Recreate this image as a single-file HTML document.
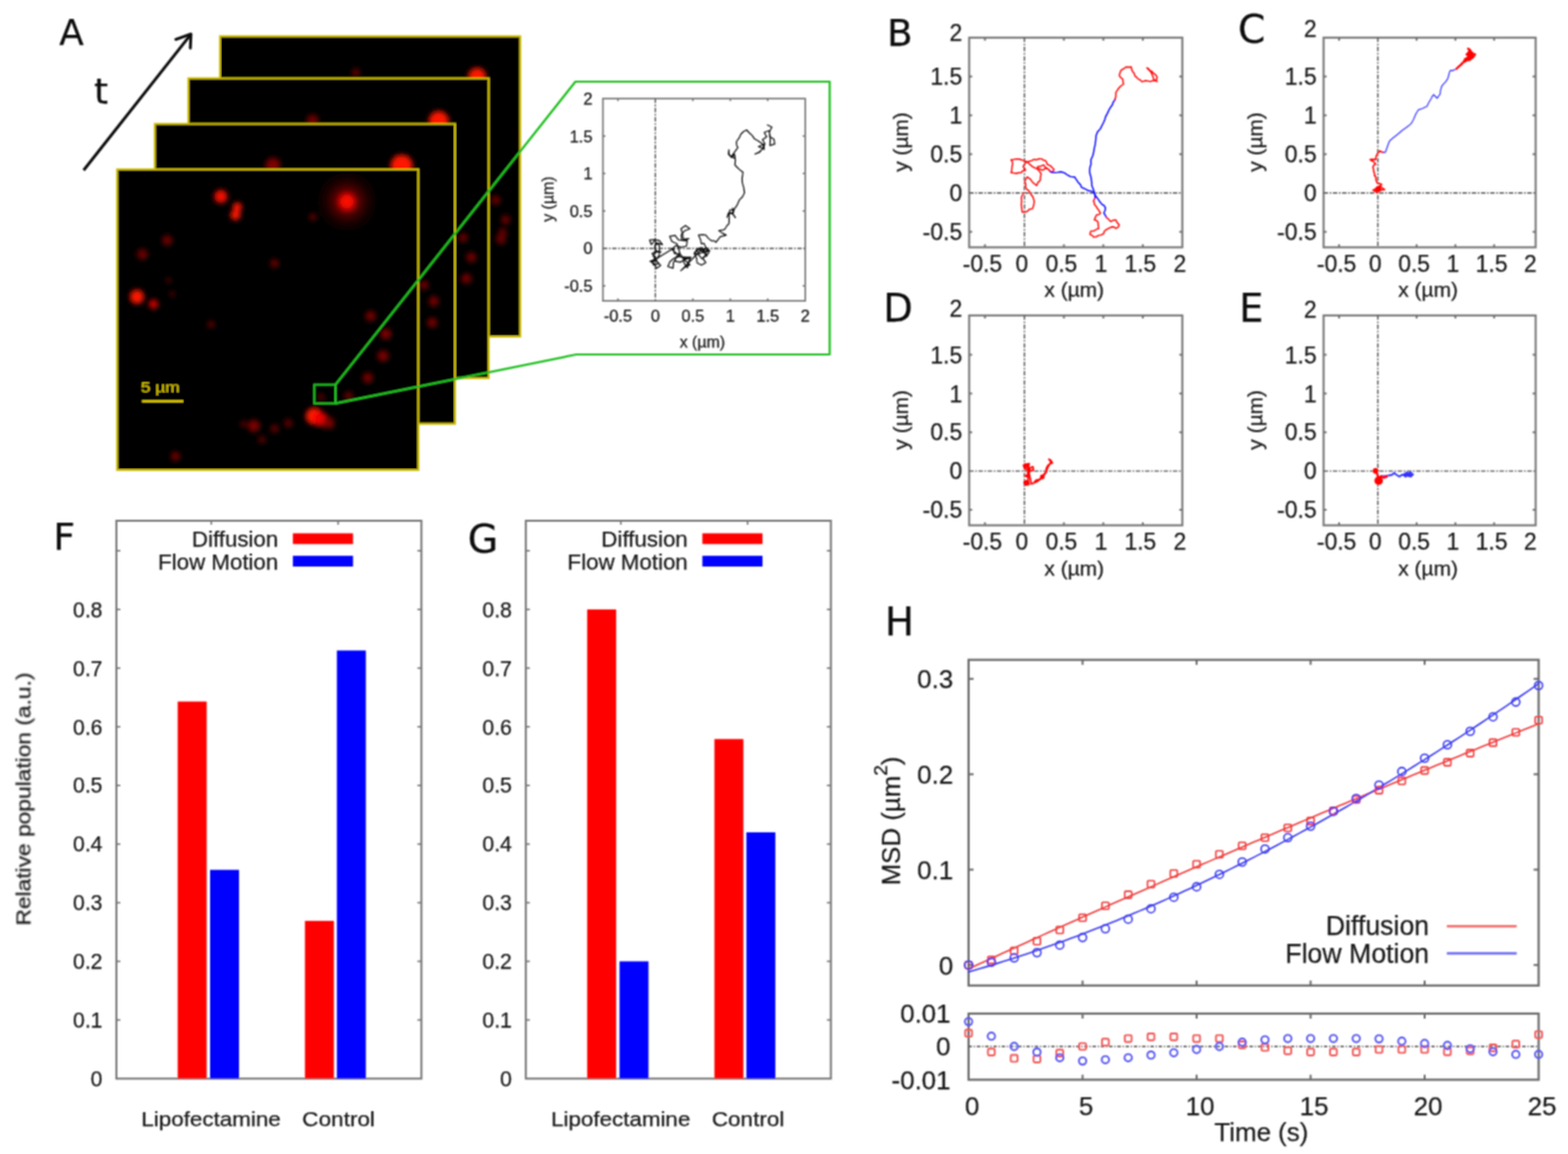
<!DOCTYPE html>
<html><head><meta charset="utf-8"><title>Figure</title>
<style>html,body{margin:0;padding:0;background:#fff;overflow:hidden;} svg{display:block;}</style>
</head><body>
<svg width="1575" height="1159" viewBox="0 0 1575 1159">
<defs>
<clipPath id="cf0"><rect x="221.0" y="36.5" width="301.5" height="301.5"/></clipPath>
<clipPath id="cf1"><rect x="189.3" y="78.7" width="301.5" height="301.0"/></clipPath>
<clipPath id="cf2"><rect x="155.6" y="124.5" width="301.4" height="301.1"/></clipPath>
<clipPath id="cf3"><rect x="117.7" y="170.2" width="302.5" height="301.8"/></clipPath>
<filter id="blur" x="-50%" y="-50%" width="200%" height="200%"><feGaussianBlur stdDeviation="2.9"/></filter>
<radialGradient id="glow"><stop offset="0" stop-color="#ff0000" stop-opacity="0.7"/><stop offset="0.35" stop-color="#c00000" stop-opacity="0.45"/><stop offset="0.7" stop-color="#500000" stop-opacity="0.25"/><stop offset="1" stop-color="#200000" stop-opacity="0"/></radialGradient>
<filter id="gb" filterUnits="userSpaceOnUse" x="0" y="0" width="1575" height="1159"><feConvolveMatrix order="3" kernelMatrix="1 2 1 2 4 2 1 2 1" divisor="16" edgeMode="duplicate"/></filter>
</defs>
<rect width="1575" height="1159" fill="#fff"/>
<g filter="url(#gb)">
<rect x="221.0" y="36.5" width="301.5" height="301.5" fill="#000"/>
<g clip-path="url(#cf0)"><g filter="url(#blur)">
<circle cx="479.3" cy="77.0" r="9" fill="rgb(255,18,0)"/>
<circle cx="357.5" cy="73.0" r="4" fill="rgb(98,0,0)"/>
<circle cx="498.0" cy="201.0" r="4.5" fill="rgb(107,0,0)"/>
<circle cx="507.9" cy="220.7" r="4.5" fill="rgb(107,0,0)"/>
<circle cx="503.0" cy="240.3" r="5" fill="rgb(107,0,0)"/>
<circle cx="505.0" cy="233.0" r="4" fill="rgb(102,0,0)"/>
</g>
</g>
<rect x="221.0" y="36.5" width="301.5" height="301.5" fill="none" stroke="#cbbb08" stroke-width="2.1"/>
<rect x="189.3" y="78.7" width="301.5" height="301" fill="#000"/>
<g clip-path="url(#cf1)"><g filter="url(#blur)">
<circle cx="440.7" cy="121.5" r="10" fill="rgb(255,18,0)"/>
<circle cx="314.0" cy="121.0" r="6" fill="rgb(112,0,0)"/>
<circle cx="465.2" cy="238.7" r="4.5" fill="rgb(107,0,0)"/>
<circle cx="473.4" cy="258.4" r="5" fill="rgb(112,0,0)"/>
<circle cx="468.5" cy="279.7" r="5" fill="rgb(116,0,0)"/>
</g>
</g>
<rect x="189.3" y="78.7" width="301.5" height="301" fill="none" stroke="#cbbb08" stroke-width="2.1"/>
<rect x="155.6" y="124.5" width="301.4" height="301.1" fill="#000"/>
<g clip-path="url(#cf2)"><g filter="url(#blur)">
<circle cx="403.5" cy="166.5" r="11" fill="rgb(255,18,0)"/>
<circle cx="274.2" cy="166.0" r="7.5" fill="rgb(126,0,0)"/>
<circle cx="425.9" cy="286.2" r="4.5" fill="rgb(112,0,0)"/>
<circle cx="435.7" cy="302.6" r="5" fill="rgb(116,0,0)"/>
<circle cx="434.1" cy="324.0" r="5" fill="rgb(116,0,0)"/>
</g>
</g>
<rect x="155.6" y="124.5" width="301.4" height="301.1" fill="none" stroke="#cbbb08" stroke-width="2.1"/>
<rect x="117.7" y="170.2" width="302.5" height="301.8" fill="#000"/>
<g clip-path="url(#cf3)"><g filter="url(#blur)">
<circle cx="348.5" cy="202.5" r="8.5" fill="rgb(255,18,0)"/>
<circle cx="221.8" cy="197.3" r="6.5" fill="rgb(246,12,0)"/>
<circle cx="238.4" cy="208.0" r="4.5" fill="rgb(255,18,0)"/>
<circle cx="236.5" cy="216.0" r="5" fill="rgb(255,18,0)"/>
<circle cx="314.3" cy="218.0" r="3.5" fill="rgb(102,0,0)"/>
<circle cx="168.0" cy="241.4" r="5" fill="rgb(112,0,0)"/>
<circle cx="143.0" cy="255.3" r="5.5" fill="rgb(102,0,0)"/>
<circle cx="275.7" cy="264.4" r="4" fill="rgb(112,0,0)"/>
<circle cx="137.6" cy="298.0" r="7" fill="rgb(255,18,0)"/>
<circle cx="154.2" cy="305.5" r="4.5" fill="rgb(218,0,0)"/>
<circle cx="173.0" cy="295.3" r="2.5" fill="rgb(102,0,0)"/>
<circle cx="169.4" cy="281.5" r="2.5" fill="rgb(98,0,0)"/>
<circle cx="212.0" cy="325.7" r="3.5" fill="rgb(98,0,0)"/>
<circle cx="372.3" cy="317.4" r="5" fill="rgb(121,0,0)"/>
<circle cx="387.5" cy="335.3" r="5.5" fill="rgb(126,0,0)"/>
<circle cx="384.7" cy="357.4" r="5.5" fill="rgb(126,0,0)"/>
<circle cx="369.5" cy="379.5" r="5" fill="rgb(126,0,0)"/>
<circle cx="350.2" cy="397.4" r="4" fill="rgb(112,0,0)"/>
<circle cx="322.6" cy="398.8" r="3" fill="rgb(112,0,0)"/>
<circle cx="315.7" cy="418.1" r="8.5" fill="rgb(255,18,0)"/>
<circle cx="322.0" cy="421.0" r="7" fill="rgb(236,6,0)"/>
<circle cx="330.0" cy="424.7" r="6" fill="rgb(121,0,0)"/>
<circle cx="255.0" cy="427.8" r="6" fill="rgb(126,0,0)"/>
<circle cx="275.7" cy="430.6" r="4" fill="rgb(98,0,0)"/>
<circle cx="289.5" cy="425.0" r="4" fill="rgb(98,0,0)"/>
<circle cx="263.2" cy="441.6" r="3.5" fill="rgb(98,0,0)"/>
<circle cx="176.3" cy="458.2" r="4.5" fill="rgb(112,0,0)"/>
<circle cx="244.5" cy="426" r="3" fill="rgb(98,0,0)"/>
</g>
<circle cx="348.5" cy="202.5" r="34" fill="url(#glow)"/>
</g>
<rect x="117.7" y="170.2" width="302.5" height="301.8" fill="none" stroke="#cbbb08" stroke-width="2.1"/>
<line x1="142.6" y1="403" x2="184" y2="403" stroke="#d8c400" stroke-width="2.4" />
<text x="141.5" y="393.5" font-size="14" text-anchor="start" font-family="'Liberation Sans', Arial, sans-serif" fill="#d8c400" stroke="#d8c400" stroke-width="0.15" textLength="39" lengthAdjust="spacingAndGlyphs">5 µm</text>
<line x1="84" y1="171" x2="191.2" y2="35.2" stroke="#111" stroke-width="2.9" />
<polyline points="176.6,39.6 191.8,34.2 191.2,48.4" fill="none" stroke="#111" stroke-width="2.9" stroke-linejoin="round" stroke-linecap="round" stroke-linecap="round"/>
<text x="59.5" y="45" font-size="36" text-anchor="start" font-family="'DejaVu Sans', 'Liberation Sans', sans-serif" fill="#111" stroke="#111" stroke-width="0.25" >A</text>
<text x="94.5" y="104.3" font-size="36" text-anchor="start" font-family="'DejaVu Sans', 'Liberation Sans', sans-serif" fill="#111" stroke="#111" stroke-width="0.25" >t</text>
<rect x="315.7" y="386.4" width="21.3" height="18.8" fill="none" stroke="#22c022" stroke-width="2"/>
<polyline points="337,386.4 578,82 833.4,82 833.4,356 579,356 337,405.2" fill="none" stroke="#22c022" stroke-width="2.2" stroke-linejoin="round" stroke-linecap="round" stroke-linecap="butt" stroke-linejoin="miter"/>
<rect x="605.6" y="99" width="203.2" height="203.2" fill="none" stroke="#747474" stroke-width="1.6"/>
<line x1="658.3" y1="99" x2="658.3" y2="302.2" stroke="#555" stroke-width="1.4" stroke-dasharray="4.5,1.6,1.6,1.6"/>
<line x1="605.6" y1="249.5" x2="808.8" y2="249.5" stroke="#555" stroke-width="1.4" stroke-dasharray="4.5,1.6,1.6,1.6"/>
<line x1="620.67" y1="99" x2="620.67" y2="101.5" stroke="#747474" stroke-width="1.6" />
<line x1="620.67" y1="302.2" x2="620.67" y2="299.7" stroke="#747474" stroke-width="1.6" />
<line x1="695.93" y1="99" x2="695.93" y2="101.5" stroke="#747474" stroke-width="1.6" />
<line x1="695.93" y1="302.2" x2="695.93" y2="299.7" stroke="#747474" stroke-width="1.6" />
<line x1="733.56" y1="99" x2="733.56" y2="101.5" stroke="#747474" stroke-width="1.6" />
<line x1="733.56" y1="302.2" x2="733.56" y2="299.7" stroke="#747474" stroke-width="1.6" />
<line x1="771.19" y1="99" x2="771.19" y2="101.5" stroke="#747474" stroke-width="1.6" />
<line x1="771.19" y1="302.2" x2="771.19" y2="299.7" stroke="#747474" stroke-width="1.6" />
<line x1="605.6" y1="287.13" x2="608.1" y2="287.13" stroke="#747474" stroke-width="1.6" />
<line x1="808.8" y1="287.13" x2="806.3" y2="287.13" stroke="#747474" stroke-width="1.6" />
<line x1="605.6" y1="211.87" x2="608.1" y2="211.87" stroke="#747474" stroke-width="1.6" />
<line x1="808.8" y1="211.87" x2="806.3" y2="211.87" stroke="#747474" stroke-width="1.6" />
<line x1="605.6" y1="174.24" x2="608.1" y2="174.24" stroke="#747474" stroke-width="1.6" />
<line x1="808.8" y1="174.24" x2="806.3" y2="174.24" stroke="#747474" stroke-width="1.6" />
<line x1="605.6" y1="136.61" x2="608.1" y2="136.61" stroke="#747474" stroke-width="1.6" />
<line x1="808.8" y1="136.61" x2="806.3" y2="136.61" stroke="#747474" stroke-width="1.6" />
<text x="620.67" y="323" font-size="16.5" text-anchor="middle" font-family="'Liberation Sans', Arial, sans-serif" fill="#1a1a1a" stroke="#1a1a1a" stroke-width="0.25" >-0.5</text>
<text x="658.3" y="323" font-size="16.5" text-anchor="middle" font-family="'Liberation Sans', Arial, sans-serif" fill="#1a1a1a" stroke="#1a1a1a" stroke-width="0.25" >0</text>
<text x="695.93" y="323" font-size="16.5" text-anchor="middle" font-family="'Liberation Sans', Arial, sans-serif" fill="#1a1a1a" stroke="#1a1a1a" stroke-width="0.25" >0.5</text>
<text x="733.56" y="323" font-size="16.5" text-anchor="middle" font-family="'Liberation Sans', Arial, sans-serif" fill="#1a1a1a" stroke="#1a1a1a" stroke-width="0.25" >1</text>
<text x="771.19" y="323" font-size="16.5" text-anchor="middle" font-family="'Liberation Sans', Arial, sans-serif" fill="#1a1a1a" stroke="#1a1a1a" stroke-width="0.25" >1.5</text>
<text x="808.82" y="323" font-size="16.5" text-anchor="middle" font-family="'Liberation Sans', Arial, sans-serif" fill="#1a1a1a" stroke="#1a1a1a" stroke-width="0.25" >2</text>
<text x="595.1" y="293.07" font-size="16.5" text-anchor="end" font-family="'Liberation Sans', Arial, sans-serif" fill="#1a1a1a" stroke="#1a1a1a" stroke-width="0.25" >-0.5</text>
<text x="595.1" y="255.44" font-size="16.5" text-anchor="end" font-family="'Liberation Sans', Arial, sans-serif" fill="#1a1a1a" stroke="#1a1a1a" stroke-width="0.25" >0</text>
<text x="595.1" y="217.81" font-size="16.5" text-anchor="end" font-family="'Liberation Sans', Arial, sans-serif" fill="#1a1a1a" stroke="#1a1a1a" stroke-width="0.25" >0.5</text>
<text x="595.1" y="180.18" font-size="16.5" text-anchor="end" font-family="'Liberation Sans', Arial, sans-serif" fill="#1a1a1a" stroke="#1a1a1a" stroke-width="0.25" >1</text>
<text x="595.1" y="142.55" font-size="16.5" text-anchor="end" font-family="'Liberation Sans', Arial, sans-serif" fill="#1a1a1a" stroke="#1a1a1a" stroke-width="0.25" >1.5</text>
<text x="595.1" y="104.92" font-size="16.5" text-anchor="end" font-family="'Liberation Sans', Arial, sans-serif" fill="#1a1a1a" stroke="#1a1a1a" stroke-width="0.25" >2</text>
<text x="705.5" y="348.5" font-size="16" text-anchor="middle" font-family="'Liberation Sans', Arial, sans-serif" fill="#1a1a1a" stroke="#1a1a1a" stroke-width="0.25" >x (µm)</text>
<text x="0" y="0" font-size="16" text-anchor="middle" font-family="'Liberation Sans', Arial, sans-serif" fill="#1a1a1a" stroke="#1a1a1a" stroke-width="0.25" transform="translate(556,200) rotate(-90)">y (µm)</text>
<polyline points="657.6,241.96 654.23,245.67 652.49,240.98 657.48,240.67 662.37,241.7 665.37,245.69 660.64,244.07 657.51,247.97 658.77,252.81 655.98,256.96 659.1,260.87 654.17,261.72 656.53,266.13 661.35,264.8 658.92,260.43 662.06,256.54 662.52,251.56 662.36,246.57 658.78,243.07 657.82,247.98 658.96,252.85 663.96,253.13 659.11,251.9 655.02,254.77 658.43,258.42 655.33,262.33 660.3,262.87 663.66,266.57 659.61,269.5 657.29,265.07 653.05,262.42 657.93,261.33 661.95,258.35 676.66,249.3 677.37,254.75 682.87,254.68 686.19,259.07 687.14,264.49 690.6,268.75 691.51,263.33 693.94,258.39 688.44,258.3 683,257.47 678.71,254.03 674.74,250.22 678.91,246.64 684.12,248.41 689.5,247.24 690.35,241.81 684.87,241.32 684.23,235.85 687.84,231.71 692.97,229.72 688.52,226.48 684.08,229.74 685.63,235.01 686.46,240.45 691.9,239.68 686.82,241.78 681.41,240.79 678.12,236.39 672.71,237.4 674.91,242.45 679.92,244.72 681.64,249.94 683.14,255.23 679.14,259.01 676.46,263.81 676.11,269.3 670.83,267.75 672.93,262.66 677.23,259.23 682.51,257.68 687.77,259.28 693.27,259.27 687.95,260.66 683.16,263.37 677.8,262.13 679.77,257 685.13,258.23 688.81,262.32 692.99,265.89 688.08,268.36 683.86,271.89 704.52,250.76 709.26,249.17 705.24,252.15 700.63,250.23 697.36,254.02 701.92,256.08 705.11,259.92 708.65,256.39 709.96,251.56 705.38,253.56 703.69,248.85 699.19,251.03 702.48,254.79 707.15,252.99 709.52,257.39 712.16,253.14 709.12,249.17 705.67,252.8 709.52,255.99 706.02,259.56 708.91,263.64 704.67,266.27 700.21,264.01 699.62,259.04 697.25,254.64 700.72,251.03 705.14,248.7 708.03,252.78 712.98,252.02 709.24,248.69 706.89,244.28 704.52,244.9 703.79,241.09 701.58,236.1 705.62,235.66 708.91,236.1 711.58,239.37 714.78,241.96 717.47,241.92 719.18,243.43 720.85,241.13 723.58,237.57 725.9,237.08 729.44,236.1 725.5,234.13 722.11,231.7 725.62,231.1 727.98,230.23 730,227.02 732.38,224.37 732.38,215.57 733.01,211.12 737.46,210.44 736.28,214.78 738.67,218.59 736.06,214.93 731.67,213.93 730.27,218.21 731.83,213.99 736.3,213.48 735.88,209 736.77,211.17 740.04,206.68 742.64,200.91 743.33,200.15 745.57,197.98 747.19,195.07 747.77,193.58 747.16,188.93 745.57,183.31 745.44,178.94 746.3,173.05 744.25,171.5 742.64,170.12 740.69,168.22 738.24,165.72 738.63,160.96 738.24,156.92 736.77,153.99 735.29,158.24 732.3,154.88 732.15,150.38 731.65,154.85 734.65,158.21 737.93,155.13 738.51,159.59 734.75,157.12 741.17,148.12 739.85,145.7 739.71,142.26 742.51,138.41 744.11,134.93 746.68,132.24 749.97,130.53 752.23,133 755.84,136.39 757.56,139.16 760.23,140.79 761.94,141.76 764.63,143.72 767.57,145.19 767.53,150.19 766.47,145.31 761.86,147.24 766.49,149.13 762.82,152.52 758.36,154.79 762.99,152.9 766.14,149.02 768.39,144.55 765.9,140.22 770.02,137.39 767.64,132.99 772.33,131.26 773.51,136.12 773.63,141.12 773.4,146.11 778.19,144.67 777.39,139.73 773.08,137.19 772.92,132.19 775.35,127.82 770.91,125.51" fill="none" stroke="#111" stroke-width="1.2" stroke-linejoin="round" stroke-linecap="round" />
<rect x="973.5" y="37.8" width="214.1" height="210.6" fill="none" stroke="#747474" stroke-width="2.0"/>
<line x1="1029" y1="37.8" x2="1029" y2="248.4" stroke="#555" stroke-width="1.4" stroke-dasharray="4.5,1.6,1.6,1.6"/>
<line x1="973.5" y1="193.8" x2="1187.6" y2="193.8" stroke="#555" stroke-width="1.4" stroke-dasharray="4.5,1.6,1.6,1.6"/>
<line x1="989.36" y1="37.8" x2="989.36" y2="40.8" stroke="#747474" stroke-width="2.0" />
<line x1="989.36" y1="248.4" x2="989.36" y2="245.4" stroke="#747474" stroke-width="2.0" />
<line x1="1068.64" y1="37.8" x2="1068.64" y2="40.8" stroke="#747474" stroke-width="2.0" />
<line x1="1068.64" y1="248.4" x2="1068.64" y2="245.4" stroke="#747474" stroke-width="2.0" />
<line x1="1108.29" y1="37.8" x2="1108.29" y2="40.8" stroke="#747474" stroke-width="2.0" />
<line x1="1108.29" y1="248.4" x2="1108.29" y2="245.4" stroke="#747474" stroke-width="2.0" />
<line x1="1147.93" y1="37.8" x2="1147.93" y2="40.8" stroke="#747474" stroke-width="2.0" />
<line x1="1147.93" y1="248.4" x2="1147.93" y2="245.4" stroke="#747474" stroke-width="2.0" />
<line x1="973.5" y1="232.8" x2="976.5" y2="232.8" stroke="#747474" stroke-width="2.0" />
<line x1="1187.6" y1="232.8" x2="1184.6" y2="232.8" stroke="#747474" stroke-width="2.0" />
<line x1="973.5" y1="154.8" x2="976.5" y2="154.8" stroke="#747474" stroke-width="2.0" />
<line x1="1187.6" y1="154.8" x2="1184.6" y2="154.8" stroke="#747474" stroke-width="2.0" />
<line x1="973.5" y1="115.8" x2="976.5" y2="115.8" stroke="#747474" stroke-width="2.0" />
<line x1="1187.6" y1="115.8" x2="1184.6" y2="115.8" stroke="#747474" stroke-width="2.0" />
<line x1="973.5" y1="76.8" x2="976.5" y2="76.8" stroke="#747474" stroke-width="2.0" />
<line x1="1187.6" y1="76.8" x2="1184.6" y2="76.8" stroke="#747474" stroke-width="2.0" />
<text x="986.86" y="272.7" font-size="23" text-anchor="middle" font-family="'Liberation Sans', Arial, sans-serif" fill="#1a1a1a" stroke="#1a1a1a" stroke-width="0.25" >-0.5</text>
<text x="1026.5" y="272.7" font-size="23" text-anchor="middle" font-family="'Liberation Sans', Arial, sans-serif" fill="#1a1a1a" stroke="#1a1a1a" stroke-width="0.25" >0</text>
<text x="1066.14" y="272.7" font-size="23" text-anchor="middle" font-family="'Liberation Sans', Arial, sans-serif" fill="#1a1a1a" stroke="#1a1a1a" stroke-width="0.25" >0.5</text>
<text x="1105.79" y="272.7" font-size="23" text-anchor="middle" font-family="'Liberation Sans', Arial, sans-serif" fill="#1a1a1a" stroke="#1a1a1a" stroke-width="0.25" >1</text>
<text x="1145.43" y="272.7" font-size="23" text-anchor="middle" font-family="'Liberation Sans', Arial, sans-serif" fill="#1a1a1a" stroke="#1a1a1a" stroke-width="0.25" >1.5</text>
<text x="1185.07" y="272.7" font-size="23" text-anchor="middle" font-family="'Liberation Sans', Arial, sans-serif" fill="#1a1a1a" stroke="#1a1a1a" stroke-width="0.25" >2</text>
<text x="966.5" y="241.08" font-size="23" text-anchor="end" font-family="'Liberation Sans', Arial, sans-serif" fill="#1a1a1a" stroke="#1a1a1a" stroke-width="0.25" >-0.5</text>
<text x="966.5" y="202.08" font-size="23" text-anchor="end" font-family="'Liberation Sans', Arial, sans-serif" fill="#1a1a1a" stroke="#1a1a1a" stroke-width="0.25" >0</text>
<text x="966.5" y="163.08" font-size="23" text-anchor="end" font-family="'Liberation Sans', Arial, sans-serif" fill="#1a1a1a" stroke="#1a1a1a" stroke-width="0.25" >0.5</text>
<text x="966.5" y="124.08" font-size="23" text-anchor="end" font-family="'Liberation Sans', Arial, sans-serif" fill="#1a1a1a" stroke="#1a1a1a" stroke-width="0.25" >1</text>
<text x="966.5" y="85.08" font-size="23" text-anchor="end" font-family="'Liberation Sans', Arial, sans-serif" fill="#1a1a1a" stroke="#1a1a1a" stroke-width="0.25" >1.5</text>
<text x="966.5" y="40.58" font-size="23" text-anchor="end" font-family="'Liberation Sans', Arial, sans-serif" fill="#1a1a1a" stroke="#1a1a1a" stroke-width="0.25" >2</text>
<text x="1079.05" y="298.4" font-size="21" text-anchor="middle" font-family="'Liberation Sans', Arial, sans-serif" fill="#1a1a1a" stroke="#1a1a1a" stroke-width="0.25" >x (µm)</text>
<text x="0" y="0" font-size="21" text-anchor="middle" font-family="'Liberation Sans', Arial, sans-serif" fill="#1a1a1a" stroke="#1a1a1a" stroke-width="0.25" transform="translate(912,142.6) rotate(-90)">y (µm)</text>
<text x="891" y="45.8" font-size="37.5" text-anchor="start" font-family="'DejaVu Sans', 'Liberation Sans', sans-serif" fill="#111" stroke="#111" stroke-width="0.25" >B</text>
<rect x="1329.5" y="37.8" width="213" height="210.6" fill="none" stroke="#747474" stroke-width="2.0"/>
<line x1="1384" y1="37.8" x2="1384" y2="248.4" stroke="#555" stroke-width="1.4" stroke-dasharray="4.5,1.6,1.6,1.6"/>
<line x1="1329.5" y1="193.8" x2="1542.5" y2="193.8" stroke="#555" stroke-width="1.4" stroke-dasharray="4.5,1.6,1.6,1.6"/>
<line x1="1345.07" y1="37.8" x2="1345.07" y2="40.8" stroke="#747474" stroke-width="2.0" />
<line x1="1345.07" y1="248.4" x2="1345.07" y2="245.4" stroke="#747474" stroke-width="2.0" />
<line x1="1422.93" y1="37.8" x2="1422.93" y2="40.8" stroke="#747474" stroke-width="2.0" />
<line x1="1422.93" y1="248.4" x2="1422.93" y2="245.4" stroke="#747474" stroke-width="2.0" />
<line x1="1461.86" y1="37.8" x2="1461.86" y2="40.8" stroke="#747474" stroke-width="2.0" />
<line x1="1461.86" y1="248.4" x2="1461.86" y2="245.4" stroke="#747474" stroke-width="2.0" />
<line x1="1500.79" y1="37.8" x2="1500.79" y2="40.8" stroke="#747474" stroke-width="2.0" />
<line x1="1500.79" y1="248.4" x2="1500.79" y2="245.4" stroke="#747474" stroke-width="2.0" />
<line x1="1329.5" y1="232.8" x2="1332.5" y2="232.8" stroke="#747474" stroke-width="2.0" />
<line x1="1542.5" y1="232.8" x2="1539.5" y2="232.8" stroke="#747474" stroke-width="2.0" />
<line x1="1329.5" y1="154.8" x2="1332.5" y2="154.8" stroke="#747474" stroke-width="2.0" />
<line x1="1542.5" y1="154.8" x2="1539.5" y2="154.8" stroke="#747474" stroke-width="2.0" />
<line x1="1329.5" y1="115.8" x2="1332.5" y2="115.8" stroke="#747474" stroke-width="2.0" />
<line x1="1542.5" y1="115.8" x2="1539.5" y2="115.8" stroke="#747474" stroke-width="2.0" />
<line x1="1329.5" y1="76.8" x2="1332.5" y2="76.8" stroke="#747474" stroke-width="2.0" />
<line x1="1542.5" y1="76.8" x2="1539.5" y2="76.8" stroke="#747474" stroke-width="2.0" />
<text x="1342.57" y="272.7" font-size="23" text-anchor="middle" font-family="'Liberation Sans', Arial, sans-serif" fill="#1a1a1a" stroke="#1a1a1a" stroke-width="0.25" >-0.5</text>
<text x="1381.5" y="272.7" font-size="23" text-anchor="middle" font-family="'Liberation Sans', Arial, sans-serif" fill="#1a1a1a" stroke="#1a1a1a" stroke-width="0.25" >0</text>
<text x="1420.43" y="272.7" font-size="23" text-anchor="middle" font-family="'Liberation Sans', Arial, sans-serif" fill="#1a1a1a" stroke="#1a1a1a" stroke-width="0.25" >0.5</text>
<text x="1459.36" y="272.7" font-size="23" text-anchor="middle" font-family="'Liberation Sans', Arial, sans-serif" fill="#1a1a1a" stroke="#1a1a1a" stroke-width="0.25" >1</text>
<text x="1498.29" y="272.7" font-size="23" text-anchor="middle" font-family="'Liberation Sans', Arial, sans-serif" fill="#1a1a1a" stroke="#1a1a1a" stroke-width="0.25" >1.5</text>
<text x="1537.21" y="272.7" font-size="23" text-anchor="middle" font-family="'Liberation Sans', Arial, sans-serif" fill="#1a1a1a" stroke="#1a1a1a" stroke-width="0.25" >2</text>
<text x="1322.5" y="241.08" font-size="23" text-anchor="end" font-family="'Liberation Sans', Arial, sans-serif" fill="#1a1a1a" stroke="#1a1a1a" stroke-width="0.25" >-0.5</text>
<text x="1322.5" y="202.08" font-size="23" text-anchor="end" font-family="'Liberation Sans', Arial, sans-serif" fill="#1a1a1a" stroke="#1a1a1a" stroke-width="0.25" >0</text>
<text x="1322.5" y="163.08" font-size="23" text-anchor="end" font-family="'Liberation Sans', Arial, sans-serif" fill="#1a1a1a" stroke="#1a1a1a" stroke-width="0.25" >0.5</text>
<text x="1322.5" y="124.08" font-size="23" text-anchor="end" font-family="'Liberation Sans', Arial, sans-serif" fill="#1a1a1a" stroke="#1a1a1a" stroke-width="0.25" >1</text>
<text x="1322.5" y="85.08" font-size="23" text-anchor="end" font-family="'Liberation Sans', Arial, sans-serif" fill="#1a1a1a" stroke="#1a1a1a" stroke-width="0.25" >1.5</text>
<text x="1322.5" y="37.08" font-size="23" text-anchor="end" font-family="'Liberation Sans', Arial, sans-serif" fill="#1a1a1a" stroke="#1a1a1a" stroke-width="0.25" >2</text>
<text x="1434.5" y="298.4" font-size="21" text-anchor="middle" font-family="'Liberation Sans', Arial, sans-serif" fill="#1a1a1a" stroke="#1a1a1a" stroke-width="0.25" >x (µm)</text>
<text x="0" y="0" font-size="21" text-anchor="middle" font-family="'Liberation Sans', Arial, sans-serif" fill="#1a1a1a" stroke="#1a1a1a" stroke-width="0.25" transform="translate(1268,142.6) rotate(-90)">y (µm)</text>
<text x="1243.6" y="42.8" font-size="39.5" text-anchor="start" font-family="'DejaVu Sans', 'Liberation Sans', sans-serif" fill="#111" stroke="#111" stroke-width="0.25" >C</text>
<rect x="973.5" y="316.8" width="214.1" height="210.8" fill="none" stroke="#747474" stroke-width="2.0"/>
<line x1="1029" y1="316.8" x2="1029" y2="527.6" stroke="#555" stroke-width="1.4" stroke-dasharray="4.5,1.6,1.6,1.6"/>
<line x1="973.5" y1="473.1" x2="1187.6" y2="473.1" stroke="#555" stroke-width="1.4" stroke-dasharray="4.5,1.6,1.6,1.6"/>
<line x1="989.36" y1="316.8" x2="989.36" y2="319.8" stroke="#747474" stroke-width="2.0" />
<line x1="989.36" y1="527.6" x2="989.36" y2="524.6" stroke="#747474" stroke-width="2.0" />
<line x1="1068.64" y1="316.8" x2="1068.64" y2="319.8" stroke="#747474" stroke-width="2.0" />
<line x1="1068.64" y1="527.6" x2="1068.64" y2="524.6" stroke="#747474" stroke-width="2.0" />
<line x1="1108.29" y1="316.8" x2="1108.29" y2="319.8" stroke="#747474" stroke-width="2.0" />
<line x1="1108.29" y1="527.6" x2="1108.29" y2="524.6" stroke="#747474" stroke-width="2.0" />
<line x1="1147.93" y1="316.8" x2="1147.93" y2="319.8" stroke="#747474" stroke-width="2.0" />
<line x1="1147.93" y1="527.6" x2="1147.93" y2="524.6" stroke="#747474" stroke-width="2.0" />
<line x1="973.5" y1="512.03" x2="976.5" y2="512.03" stroke="#747474" stroke-width="2.0" />
<line x1="1187.6" y1="512.03" x2="1184.6" y2="512.03" stroke="#747474" stroke-width="2.0" />
<line x1="973.5" y1="434.17" x2="976.5" y2="434.17" stroke="#747474" stroke-width="2.0" />
<line x1="1187.6" y1="434.17" x2="1184.6" y2="434.17" stroke="#747474" stroke-width="2.0" />
<line x1="973.5" y1="395.24" x2="976.5" y2="395.24" stroke="#747474" stroke-width="2.0" />
<line x1="1187.6" y1="395.24" x2="1184.6" y2="395.24" stroke="#747474" stroke-width="2.0" />
<line x1="973.5" y1="356.31" x2="976.5" y2="356.31" stroke="#747474" stroke-width="2.0" />
<line x1="1187.6" y1="356.31" x2="1184.6" y2="356.31" stroke="#747474" stroke-width="2.0" />
<text x="986.86" y="551.9" font-size="23" text-anchor="middle" font-family="'Liberation Sans', Arial, sans-serif" fill="#1a1a1a" stroke="#1a1a1a" stroke-width="0.25" >-0.5</text>
<text x="1026.5" y="551.9" font-size="23" text-anchor="middle" font-family="'Liberation Sans', Arial, sans-serif" fill="#1a1a1a" stroke="#1a1a1a" stroke-width="0.25" >0</text>
<text x="1066.14" y="551.9" font-size="23" text-anchor="middle" font-family="'Liberation Sans', Arial, sans-serif" fill="#1a1a1a" stroke="#1a1a1a" stroke-width="0.25" >0.5</text>
<text x="1105.79" y="551.9" font-size="23" text-anchor="middle" font-family="'Liberation Sans', Arial, sans-serif" fill="#1a1a1a" stroke="#1a1a1a" stroke-width="0.25" >1</text>
<text x="1145.43" y="551.9" font-size="23" text-anchor="middle" font-family="'Liberation Sans', Arial, sans-serif" fill="#1a1a1a" stroke="#1a1a1a" stroke-width="0.25" >1.5</text>
<text x="1185.07" y="551.9" font-size="23" text-anchor="middle" font-family="'Liberation Sans', Arial, sans-serif" fill="#1a1a1a" stroke="#1a1a1a" stroke-width="0.25" >2</text>
<text x="966.5" y="520.31" font-size="23" text-anchor="end" font-family="'Liberation Sans', Arial, sans-serif" fill="#1a1a1a" stroke="#1a1a1a" stroke-width="0.25" >-0.5</text>
<text x="966.5" y="481.38" font-size="23" text-anchor="end" font-family="'Liberation Sans', Arial, sans-serif" fill="#1a1a1a" stroke="#1a1a1a" stroke-width="0.25" >0</text>
<text x="966.5" y="442.45" font-size="23" text-anchor="end" font-family="'Liberation Sans', Arial, sans-serif" fill="#1a1a1a" stroke="#1a1a1a" stroke-width="0.25" >0.5</text>
<text x="966.5" y="403.52" font-size="23" text-anchor="end" font-family="'Liberation Sans', Arial, sans-serif" fill="#1a1a1a" stroke="#1a1a1a" stroke-width="0.25" >1</text>
<text x="966.5" y="364.59" font-size="23" text-anchor="end" font-family="'Liberation Sans', Arial, sans-serif" fill="#1a1a1a" stroke="#1a1a1a" stroke-width="0.25" >1.5</text>
<text x="966.5" y="317.67" font-size="23" text-anchor="end" font-family="'Liberation Sans', Arial, sans-serif" fill="#1a1a1a" stroke="#1a1a1a" stroke-width="0.25" >2</text>
<text x="1079.05" y="577.6" font-size="21" text-anchor="middle" font-family="'Liberation Sans', Arial, sans-serif" fill="#1a1a1a" stroke="#1a1a1a" stroke-width="0.25" >x (µm)</text>
<text x="0" y="0" font-size="21" text-anchor="middle" font-family="'Liberation Sans', Arial, sans-serif" fill="#1a1a1a" stroke="#1a1a1a" stroke-width="0.25" transform="translate(912,421.7) rotate(-90)">y (µm)</text>
<text x="887.3" y="322.6" font-size="38.5" text-anchor="start" font-family="'DejaVu Sans', 'Liberation Sans', sans-serif" fill="#111" stroke="#111" stroke-width="0.25" >D</text>
<rect x="1329.5" y="316.8" width="213" height="210.8" fill="none" stroke="#747474" stroke-width="2.0"/>
<line x1="1384" y1="316.8" x2="1384" y2="527.6" stroke="#555" stroke-width="1.4" stroke-dasharray="4.5,1.6,1.6,1.6"/>
<line x1="1329.5" y1="473.1" x2="1542.5" y2="473.1" stroke="#555" stroke-width="1.4" stroke-dasharray="4.5,1.6,1.6,1.6"/>
<line x1="1345.07" y1="316.8" x2="1345.07" y2="319.8" stroke="#747474" stroke-width="2.0" />
<line x1="1345.07" y1="527.6" x2="1345.07" y2="524.6" stroke="#747474" stroke-width="2.0" />
<line x1="1422.93" y1="316.8" x2="1422.93" y2="319.8" stroke="#747474" stroke-width="2.0" />
<line x1="1422.93" y1="527.6" x2="1422.93" y2="524.6" stroke="#747474" stroke-width="2.0" />
<line x1="1461.86" y1="316.8" x2="1461.86" y2="319.8" stroke="#747474" stroke-width="2.0" />
<line x1="1461.86" y1="527.6" x2="1461.86" y2="524.6" stroke="#747474" stroke-width="2.0" />
<line x1="1500.79" y1="316.8" x2="1500.79" y2="319.8" stroke="#747474" stroke-width="2.0" />
<line x1="1500.79" y1="527.6" x2="1500.79" y2="524.6" stroke="#747474" stroke-width="2.0" />
<line x1="1329.5" y1="512.03" x2="1332.5" y2="512.03" stroke="#747474" stroke-width="2.0" />
<line x1="1542.5" y1="512.03" x2="1539.5" y2="512.03" stroke="#747474" stroke-width="2.0" />
<line x1="1329.5" y1="434.17" x2="1332.5" y2="434.17" stroke="#747474" stroke-width="2.0" />
<line x1="1542.5" y1="434.17" x2="1539.5" y2="434.17" stroke="#747474" stroke-width="2.0" />
<line x1="1329.5" y1="395.24" x2="1332.5" y2="395.24" stroke="#747474" stroke-width="2.0" />
<line x1="1542.5" y1="395.24" x2="1539.5" y2="395.24" stroke="#747474" stroke-width="2.0" />
<line x1="1329.5" y1="356.31" x2="1332.5" y2="356.31" stroke="#747474" stroke-width="2.0" />
<line x1="1542.5" y1="356.31" x2="1539.5" y2="356.31" stroke="#747474" stroke-width="2.0" />
<text x="1342.57" y="551.9" font-size="23" text-anchor="middle" font-family="'Liberation Sans', Arial, sans-serif" fill="#1a1a1a" stroke="#1a1a1a" stroke-width="0.25" >-0.5</text>
<text x="1381.5" y="551.9" font-size="23" text-anchor="middle" font-family="'Liberation Sans', Arial, sans-serif" fill="#1a1a1a" stroke="#1a1a1a" stroke-width="0.25" >0</text>
<text x="1420.43" y="551.9" font-size="23" text-anchor="middle" font-family="'Liberation Sans', Arial, sans-serif" fill="#1a1a1a" stroke="#1a1a1a" stroke-width="0.25" >0.5</text>
<text x="1459.36" y="551.9" font-size="23" text-anchor="middle" font-family="'Liberation Sans', Arial, sans-serif" fill="#1a1a1a" stroke="#1a1a1a" stroke-width="0.25" >1</text>
<text x="1498.29" y="551.9" font-size="23" text-anchor="middle" font-family="'Liberation Sans', Arial, sans-serif" fill="#1a1a1a" stroke="#1a1a1a" stroke-width="0.25" >1.5</text>
<text x="1537.21" y="551.9" font-size="23" text-anchor="middle" font-family="'Liberation Sans', Arial, sans-serif" fill="#1a1a1a" stroke="#1a1a1a" stroke-width="0.25" >2</text>
<text x="1322.5" y="520.31" font-size="23" text-anchor="end" font-family="'Liberation Sans', Arial, sans-serif" fill="#1a1a1a" stroke="#1a1a1a" stroke-width="0.25" >-0.5</text>
<text x="1322.5" y="481.38" font-size="23" text-anchor="end" font-family="'Liberation Sans', Arial, sans-serif" fill="#1a1a1a" stroke="#1a1a1a" stroke-width="0.25" >0</text>
<text x="1322.5" y="442.45" font-size="23" text-anchor="end" font-family="'Liberation Sans', Arial, sans-serif" fill="#1a1a1a" stroke="#1a1a1a" stroke-width="0.25" >0.5</text>
<text x="1322.5" y="403.52" font-size="23" text-anchor="end" font-family="'Liberation Sans', Arial, sans-serif" fill="#1a1a1a" stroke="#1a1a1a" stroke-width="0.25" >1</text>
<text x="1322.5" y="364.59" font-size="23" text-anchor="end" font-family="'Liberation Sans', Arial, sans-serif" fill="#1a1a1a" stroke="#1a1a1a" stroke-width="0.25" >1.5</text>
<text x="1322.5" y="318.67" font-size="23" text-anchor="end" font-family="'Liberation Sans', Arial, sans-serif" fill="#1a1a1a" stroke="#1a1a1a" stroke-width="0.25" >2</text>
<text x="1434.5" y="577.6" font-size="21" text-anchor="middle" font-family="'Liberation Sans', Arial, sans-serif" fill="#1a1a1a" stroke="#1a1a1a" stroke-width="0.25" >x (µm)</text>
<text x="0" y="0" font-size="21" text-anchor="middle" font-family="'Liberation Sans', Arial, sans-serif" fill="#1a1a1a" stroke="#1a1a1a" stroke-width="0.25" transform="translate(1268,421.7) rotate(-90)">y (µm)</text>
<text x="1244.8" y="322.6" font-size="38.5" text-anchor="start" font-family="'DejaVu Sans', 'Liberation Sans', sans-serif" fill="#111" stroke="#111" stroke-width="0.25" >E</text>
<polyline points="1028.48,193.6 1026.67,196.5 1025.89,198.43 1026.26,201.54 1025.89,205.33 1026.31,209.15 1026.75,213.1 1029.55,213.07 1031.93,212.24 1033.95,210.28 1037.11,209.65 1038.44,205.67 1038.83,201.88 1037.47,197.73 1035.38,194.98 1034.44,193.56 1033.66,191.53 1031.55,190.42 1030.2,188.07 1030.33,184.83 1029.34,182.9 1029.97,180.37 1031.93,177.72 1035.13,180.14 1037.11,182.9 1038.87,184.51 1041.42,186.35 1042.49,183.37 1044.87,181.17 1045.22,177.71 1045.74,174.27 1044.07,172.16 1043.15,170.81 1041.89,169.9 1041.42,169.09" fill="none" stroke="#ff0000" stroke-width="1.4" stroke-linejoin="round" stroke-linecap="round" />
<polyline points="1041.42,169.09 1039.9,168.85 1037.11,167.36 1033.47,164.19 1031.07,162.19 1028.95,161.65 1025.89,160.46 1023.54,159.76 1020.71,159.6 1018.27,160.18 1015.53,160.46 1016.51,161.71 1017.26,163.91 1016.73,166.35 1016.4,169.09 1016.28,171.94 1015.53,173.4 1018.75,173.9 1020.71,174.27 1023.22,173.51 1025.89,173.4 1027.4,171.45 1030.2,170.81 1028.86,168.83 1027.61,167.36 1028.74,165.75 1030.2,163.05 1033.26,162.27 1036.24,161.32 1038.46,160.22 1041.42,160.46 1043.77,159.52 1046.6,159.6 1048.34,161.16 1050.05,161.32 1051.16,162.6 1051.78,164.77 1054.05,166.05 1055.23,166.5 1057.28,168.79 1058.68,169.95 1058.19,171.65 1056.96,172.54 1055.02,172.35 1053.5,170.81 1052.42,169.48 1050.05,169.09 1048.68,170.25 1046.6,170.81 1044.82,169.99 1043.15,169.09 1042.7,168.82 1042.29,167.36 1045.31,166.96 1048.33,165.64 1049.85,167.9 1051.78,169.09 1054.06,170.76 1055.23,172.54" fill="none" stroke="#ff0000" stroke-width="1.4" stroke-linejoin="round" stroke-linecap="round" />
<polyline points="1055.23,172.54 1057.02,173.03 1059.54,173.4 1062.38,173.12 1065.59,172.54 1069.21,173.66 1072.49,175.99 1075.26,177.33 1079.39,177.72 1080.78,179.94 1082.84,182.9 1085.26,185.44 1086.3,188.07 1090.22,189.77 1093.2,191.53 1095.98,191.9 1098.38,193.25 1100.29,196.36 1101.83,198.43 1104.45,202.22 1107.01,205.33 1108.97,206.45 1110.46,208.78 1109.96,211.5 1108.73,213.96 1109.75,215.46 1111.32,218.28" fill="none" stroke="#0000ff" stroke-width="1.4" stroke-linejoin="round" stroke-linecap="round" />
<polyline points="1111.32,218.28 1113.11,219.88 1115.64,222.59 1118.08,221.25 1120.81,220.87 1121.93,223.32 1124.27,226.04 1123.13,228.19 1120.81,229.5 1119.46,228.24 1117.36,227.77 1113.96,229.18 1110.46,231.22 1109.14,232.4 1108.73,234.67 1105.74,236.14 1103.56,236.4 1101.43,237.69 1098.38,238.13 1097.07,236.4 1094.93,235.54 1095.09,233.99 1095.79,232.08 1098.27,232.15 1100.1,231.22 1102.36,229.78 1103.56,229.5 1103.27,226.28 1102.69,222.59 1100.97,221.28 1099.24,220.87 1100.5,217.7 1101.83,215.69 1104.16,215.34 1105.28,213.96 1103.62,211.09 1101.83,208.78 1101.11,207.16 1099.24,205.33 1099.34,204.09 1098.38,201.88 1099.25,200.03 1100.1,198.43" fill="none" stroke="#ff0000" stroke-width="1.4" stroke-linejoin="round" stroke-linecap="round" />
<polyline points="1100.1,198.43 1099.84,196.18 1099.24,193.25 1098.36,190.42 1096.65,186.35 1096.56,182.62 1095.79,177.72 1094.53,173.36 1094.58,169.09 1095.81,164.98 1095.79,160.46 1097.64,156.47 1098.38,153.56 1099.2,148.89 1100.1,144.93 1100.6,140.71 1100.97,136.3 1102.44,132.45 1105.28,129.39 1106.7,126.52 1108.73,122.49 1109.97,119.42 1110.46,117.31 1112.6,113.35 1113.91,110.41 1115.8,107.3 1117.36,105.23 1117.96,103.16 1119.95,100.05" fill="none" stroke="#0000ff" stroke-width="1.4" stroke-linejoin="round" stroke-linecap="round" />
<polyline points="1119.95,100.05 1120.79,97.05 1120.81,93.15 1122.52,90.23 1124.27,87.97 1125.72,86.47 1128.58,84.52 1128.11,82.29 1127.72,79.34 1125.81,77.99 1124.27,75.89 1124.81,73.72 1125.99,70.71 1128.9,68.86 1131.17,67.26 1133.81,67.51 1136.35,67.26 1136.78,69.92 1138.07,72.44 1139.36,73.83 1139.8,75.89 1141.95,77.87 1143.25,79.34 1145.46,80.4 1146.7,81.93 1147.86,81.92 1150.16,81.07 1153.17,81.42 1155.33,81.93 1157.78,81.07 1161.37,81.07 1161.99,79.05 1162.24,77.61 1161.57,76.01 1159.65,74.16 1157.93,73.09 1157.06,71.57 1155.14,70.89 1153.61,68.99 1153.32,68.57 1151.88,68.12 1154.24,70.56 1156.2,72.44 1157.92,76.56 1158.78,79.34 1159.85,80.44 1162.24,81.93" fill="none" stroke="#ff0000" stroke-width="1.4" stroke-linejoin="round" stroke-linecap="round" />
<polyline points="1383.48,193.36 1381.22,192.33 1379.08,191.16 1382.89,188.92 1385.68,186.76 1388.26,188.7 1390.82,190.43 1386.04,190.81 1382.01,191.16 1385.1,188.58 1387.88,185.29 1385.2,184.32 1383.48,183.82 1382.26,181.26 1382.01,177.95 1381.51,176.67 1380.55,176.48 1380.76,174.84 1379.81,172.08 1379.63,170.02 1379.08,167.68 1380.13,165.63 1382.01,164.74 1379.11,162.01 1376.14,160.34 1378.71,160.03 1382.01,160.34 1382.18,157.36 1383.48,154.47 1384.51,153.41 1385.68,151.54 1387.54,152.44 1389.35,153" fill="none" stroke="#ff0000" stroke-width="1.5" stroke-linejoin="round" stroke-linecap="round" />
<polyline points="1389.35,153 1390.43,153.16 1391.55,153 1393.55,147.51 1395.22,142.73 1396.93,140.4 1399.62,138.33 1403.8,134.97 1408.43,130.99 1413.02,127.79 1417.24,124.39 1418.76,121.98 1420.17,119.25 1422.02,114.79 1424.57,110.44 1428.64,109.01 1433.38,106.77 1435.14,103.06 1437.78,98.7 1438.46,97.06 1439.98,95.03 1441.65,96.77 1443.65,98.7 1445.46,96.02 1446.59,94.3 1446.88,91.05 1448.05,86.96 1449.9,84.35 1451.72,82.56 1454.04,79.34 1455.39,75.22 1455.74,72.94 1456.86,70.82 1457.96,70.63 1459.79,70.82 1461.38,69.75 1462.73,69.35" fill="none" stroke="#3a3aff" stroke-width="1.2" stroke-linejoin="round" stroke-linecap="round" />
<polyline points="1462.73,69.35 1463.81,68.18 1465.66,66.42 1468.16,64.77 1470.07,62.01 1471.77,59.38 1474.47,57.61 1475.37,54.24 1477.41,51.74 1476.31,49.68 1474.47,48.81 1476.72,50.55 1478.87,53.21 1480.01,53.83 1481.81,54.68 1479.41,57.78 1475.94,60.55 1472.96,59.45 1471.54,59.08 1473.9,58.2 1477.41,56.14 1477.17,53.7 1475.94,50.27 1474.99,52.87 1473,54.68 1477.39,55.88 1480.34,56.14 1474.08,60.37 1468.6,63.48 1466.38,66.09 1464.2,67.88" fill="none" stroke="#ff0000" stroke-width="2.0" stroke-linejoin="round" stroke-linecap="round" />
<circle cx="1384.5" cy="190" r="3" fill="#ff0000"/>
<circle cx="1477" cy="56" r="3.2" fill="#ff0000"/>
<polyline points="1029.7,466 1033.09,467.22 1032.14,470.69 1034.42,473.47 1032.94,476.75 1029.5,477.8 1032.78,479.29 1032.88,482.89 1033.74,486.38 1030.22,487.13 1033.69,486.15 1032.66,482.7 1032.67,479.1 1032.32,475.52 1032.53,471.93 1029.19,470.6 1028,467.2 1031.57,467.68 1034.21,470.13 1037.53,468.74 1038.06,472.3 1034.46,472.37 1032.81,469.17 1033.72,465.68 1030.22,466.54 1033.81,466.22 1032.48,469.57 1036,486 1037.95,485.34 1041.1,484 1043.94,482.16 1046.3,480.4 1047.34,478.88 1049.4,476.3 1050.95,474.22 1051.4,472.1 1052.71,469.02 1054,466.9 1054.66,465.67 1057.1,464.9 1055.45,462.27 1053.5,461.2 1055.03,462.87 1055.5,465.5 1052.77,467.18 1051,470.5 1050.65,473.93 1048.5,476.5 1046.93,479.21 1044,481.5 1040.66,482.44 1039,484" fill="none" stroke="#ff0000" stroke-width="1.7" stroke-linejoin="round" stroke-linecap="round" />
<circle cx="1030.5" cy="484.5" r="2.6" fill="#ff0000"/>
<circle cx="1030.5" cy="468" r="2.0" fill="#ff0000"/>
<circle cx="1047" cy="479" r="2.4" fill="#ff0000"/>
<polyline points="1387.5,478.3 1393,477.8 1398,477 1398,477 1400.49,474.98 1402.91,477.07 1405.67,478.69 1408.26,476.8 1411.44,477.15 1413.25,474.51 1414.69,477.37 1417.89,477.29 1416.54,474.39 1413.98,476.31 1411.94,478.78 1409.39,476.85 1412.19,475.28 1413.9,477.98 1417.06,478.52 1419.39,476.33 1417.2,478.67 1419.21,476.17 1416.41,477.72 1414.34,475.28 1417.46,474.55 1417.8,477.73" fill="none" stroke="#3030ff" stroke-width="1.8" stroke-linejoin="round" stroke-linecap="round" />
<circle cx="1381.7" cy="472.9" r="2.8" fill="#ff0000"/>
<circle cx="1384.8" cy="482.8" r="4.3" fill="#ff0000"/>
<polyline points="1382,473 1383.5,477 1384.5,481" fill="none" stroke="#ff0000" stroke-width="2.0" stroke-linejoin="round" stroke-linecap="round" />
<polyline points="1384,480 1387,478.5 1390,479.5 1393,478.5" fill="none" stroke="#ff0000" stroke-width="2.4" stroke-linejoin="round" stroke-linecap="round" />
<rect x="116.9" y="523" width="306.4" height="560.3" fill="none" stroke="#777777" stroke-width="2"/>
<line x1="116.9" y1="1024.4" x2="120.9" y2="1024.4" stroke="#777777" stroke-width="1.6" />
<line x1="423.3" y1="1024.4" x2="419.3" y2="1024.4" stroke="#777777" stroke-width="1.6" />
<line x1="116.9" y1="965.5" x2="120.9" y2="965.5" stroke="#777777" stroke-width="1.6" />
<line x1="423.3" y1="965.5" x2="419.3" y2="965.5" stroke="#777777" stroke-width="1.6" />
<line x1="116.9" y1="906.6" x2="120.9" y2="906.6" stroke="#777777" stroke-width="1.6" />
<line x1="423.3" y1="906.6" x2="419.3" y2="906.6" stroke="#777777" stroke-width="1.6" />
<line x1="116.9" y1="847.7" x2="120.9" y2="847.7" stroke="#777777" stroke-width="1.6" />
<line x1="423.3" y1="847.7" x2="419.3" y2="847.7" stroke="#777777" stroke-width="1.6" />
<line x1="116.9" y1="788.8" x2="120.9" y2="788.8" stroke="#777777" stroke-width="1.6" />
<line x1="423.3" y1="788.8" x2="419.3" y2="788.8" stroke="#777777" stroke-width="1.6" />
<line x1="116.9" y1="729.9" x2="120.9" y2="729.9" stroke="#777777" stroke-width="1.6" />
<line x1="423.3" y1="729.9" x2="419.3" y2="729.9" stroke="#777777" stroke-width="1.6" />
<line x1="116.9" y1="671" x2="120.9" y2="671" stroke="#777777" stroke-width="1.6" />
<line x1="423.3" y1="671" x2="419.3" y2="671" stroke="#777777" stroke-width="1.6" />
<line x1="116.9" y1="612.1" x2="120.9" y2="612.1" stroke="#777777" stroke-width="1.6" />
<line x1="423.3" y1="612.1" x2="419.3" y2="612.1" stroke="#777777" stroke-width="1.6" />
<line x1="116.9" y1="553.2" x2="120.9" y2="553.2" stroke="#777777" stroke-width="1.6" />
<line x1="423.3" y1="553.2" x2="419.3" y2="553.2" stroke="#777777" stroke-width="1.6" />
<line x1="212.3" y1="523" x2="212.3" y2="527" stroke="#777777" stroke-width="1.6" />
<line x1="339.6" y1="523" x2="339.6" y2="527" stroke="#777777" stroke-width="1.6" />
<rect x="178.5" y="704.57" width="29.1" height="378.73" fill="#ff0000"/>
<rect x="211" y="873.62" width="29.1" height="209.68" fill="#0000ff"/>
<rect x="306.3" y="924.86" width="29.1" height="158.44" fill="#ff0000"/>
<rect x="338.4" y="653.33" width="29.1" height="429.97" fill="#0000ff"/>
<text x="102.9" y="1090.9" font-size="21.3" text-anchor="end" font-family="'Liberation Sans', Arial, sans-serif" fill="#1a1a1a" stroke="#1a1a1a" stroke-width="0.25" >0</text>
<text x="102.9" y="1032" font-size="21.3" text-anchor="end" font-family="'Liberation Sans', Arial, sans-serif" fill="#1a1a1a" stroke="#1a1a1a" stroke-width="0.25" >0.1</text>
<text x="102.9" y="973.1" font-size="21.3" text-anchor="end" font-family="'Liberation Sans', Arial, sans-serif" fill="#1a1a1a" stroke="#1a1a1a" stroke-width="0.25" >0.2</text>
<text x="102.9" y="914.2" font-size="21.3" text-anchor="end" font-family="'Liberation Sans', Arial, sans-serif" fill="#1a1a1a" stroke="#1a1a1a" stroke-width="0.25" >0.3</text>
<text x="102.9" y="855.3" font-size="21.3" text-anchor="end" font-family="'Liberation Sans', Arial, sans-serif" fill="#1a1a1a" stroke="#1a1a1a" stroke-width="0.25" >0.4</text>
<text x="102.9" y="796.4" font-size="21.3" text-anchor="end" font-family="'Liberation Sans', Arial, sans-serif" fill="#1a1a1a" stroke="#1a1a1a" stroke-width="0.25" >0.5</text>
<text x="102.9" y="737.5" font-size="21.3" text-anchor="end" font-family="'Liberation Sans', Arial, sans-serif" fill="#1a1a1a" stroke="#1a1a1a" stroke-width="0.25" >0.6</text>
<text x="102.9" y="678.6" font-size="21.3" text-anchor="end" font-family="'Liberation Sans', Arial, sans-serif" fill="#1a1a1a" stroke="#1a1a1a" stroke-width="0.25" >0.7</text>
<text x="102.9" y="619.7" font-size="21.3" text-anchor="end" font-family="'Liberation Sans', Arial, sans-serif" fill="#1a1a1a" stroke="#1a1a1a" stroke-width="0.25" >0.8</text>
<text x="212.1" y="1130.5" font-size="20.5" text-anchor="middle" font-family="'Liberation Sans', Arial, sans-serif" fill="#1a1a1a" stroke="#1a1a1a" stroke-width="0.25" textLength="140" lengthAdjust="spacingAndGlyphs">Lipofectamine</text>
<text x="340.1" y="1130.5" font-size="20.5" text-anchor="middle" font-family="'Liberation Sans', Arial, sans-serif" fill="#1a1a1a" stroke="#1a1a1a" stroke-width="0.25" textLength="73" lengthAdjust="spacingAndGlyphs">Control</text>
<text x="279.5" y="549" font-size="22.4" text-anchor="end" font-family="'Liberation Sans', Arial, sans-serif" fill="#1a1a1a" stroke="#1a1a1a" stroke-width="0.25" >Diffusion</text>
<text x="279.5" y="572" font-size="22.4" text-anchor="end" font-family="'Liberation Sans', Arial, sans-serif" fill="#1a1a1a" stroke="#1a1a1a" stroke-width="0.25" >Flow Motion</text>
<rect x="294.2" y="535.6" width="60.4" height="10.8" fill="#ff0000"/>
<rect x="294.2" y="558.2" width="60.4" height="10.8" fill="#0000ff"/>
<text x="53.6" y="552.2" font-size="38" text-anchor="start" font-family="'DejaVu Sans', 'Liberation Sans', sans-serif" fill="#111" stroke="#111" stroke-width="0.25" >F</text>
<rect x="528.2" y="523" width="306.4" height="560.3" fill="none" stroke="#777777" stroke-width="2"/>
<line x1="528.2" y1="1024.4" x2="532.2" y2="1024.4" stroke="#777777" stroke-width="1.6" />
<line x1="834.6" y1="1024.4" x2="830.6" y2="1024.4" stroke="#777777" stroke-width="1.6" />
<line x1="528.2" y1="965.5" x2="532.2" y2="965.5" stroke="#777777" stroke-width="1.6" />
<line x1="834.6" y1="965.5" x2="830.6" y2="965.5" stroke="#777777" stroke-width="1.6" />
<line x1="528.2" y1="906.6" x2="532.2" y2="906.6" stroke="#777777" stroke-width="1.6" />
<line x1="834.6" y1="906.6" x2="830.6" y2="906.6" stroke="#777777" stroke-width="1.6" />
<line x1="528.2" y1="847.7" x2="532.2" y2="847.7" stroke="#777777" stroke-width="1.6" />
<line x1="834.6" y1="847.7" x2="830.6" y2="847.7" stroke="#777777" stroke-width="1.6" />
<line x1="528.2" y1="788.8" x2="532.2" y2="788.8" stroke="#777777" stroke-width="1.6" />
<line x1="834.6" y1="788.8" x2="830.6" y2="788.8" stroke="#777777" stroke-width="1.6" />
<line x1="528.2" y1="729.9" x2="532.2" y2="729.9" stroke="#777777" stroke-width="1.6" />
<line x1="834.6" y1="729.9" x2="830.6" y2="729.9" stroke="#777777" stroke-width="1.6" />
<line x1="528.2" y1="671" x2="532.2" y2="671" stroke="#777777" stroke-width="1.6" />
<line x1="834.6" y1="671" x2="830.6" y2="671" stroke="#777777" stroke-width="1.6" />
<line x1="528.2" y1="612.1" x2="532.2" y2="612.1" stroke="#777777" stroke-width="1.6" />
<line x1="834.6" y1="612.1" x2="830.6" y2="612.1" stroke="#777777" stroke-width="1.6" />
<line x1="528.2" y1="553.2" x2="532.2" y2="553.2" stroke="#777777" stroke-width="1.6" />
<line x1="834.6" y1="553.2" x2="830.6" y2="553.2" stroke="#777777" stroke-width="1.6" />
<line x1="623.6" y1="523" x2="623.6" y2="527" stroke="#777777" stroke-width="1.6" />
<line x1="750.9" y1="523" x2="750.9" y2="527" stroke="#777777" stroke-width="1.6" />
<rect x="589.8" y="612.1" width="29.1" height="471.2" fill="#ff0000"/>
<rect x="622.3" y="965.5" width="29.1" height="117.8" fill="#0000ff"/>
<rect x="717.6" y="742.27" width="29.1" height="341.03" fill="#ff0000"/>
<rect x="749.7" y="835.92" width="29.1" height="247.38" fill="#0000ff"/>
<text x="514.2" y="1090.9" font-size="21.3" text-anchor="end" font-family="'Liberation Sans', Arial, sans-serif" fill="#1a1a1a" stroke="#1a1a1a" stroke-width="0.25" >0</text>
<text x="514.2" y="1032" font-size="21.3" text-anchor="end" font-family="'Liberation Sans', Arial, sans-serif" fill="#1a1a1a" stroke="#1a1a1a" stroke-width="0.25" >0.1</text>
<text x="514.2" y="973.1" font-size="21.3" text-anchor="end" font-family="'Liberation Sans', Arial, sans-serif" fill="#1a1a1a" stroke="#1a1a1a" stroke-width="0.25" >0.2</text>
<text x="514.2" y="914.2" font-size="21.3" text-anchor="end" font-family="'Liberation Sans', Arial, sans-serif" fill="#1a1a1a" stroke="#1a1a1a" stroke-width="0.25" >0.3</text>
<text x="514.2" y="855.3" font-size="21.3" text-anchor="end" font-family="'Liberation Sans', Arial, sans-serif" fill="#1a1a1a" stroke="#1a1a1a" stroke-width="0.25" >0.4</text>
<text x="514.2" y="796.4" font-size="21.3" text-anchor="end" font-family="'Liberation Sans', Arial, sans-serif" fill="#1a1a1a" stroke="#1a1a1a" stroke-width="0.25" >0.5</text>
<text x="514.2" y="737.5" font-size="21.3" text-anchor="end" font-family="'Liberation Sans', Arial, sans-serif" fill="#1a1a1a" stroke="#1a1a1a" stroke-width="0.25" >0.6</text>
<text x="514.2" y="678.6" font-size="21.3" text-anchor="end" font-family="'Liberation Sans', Arial, sans-serif" fill="#1a1a1a" stroke="#1a1a1a" stroke-width="0.25" >0.7</text>
<text x="514.2" y="619.7" font-size="21.3" text-anchor="end" font-family="'Liberation Sans', Arial, sans-serif" fill="#1a1a1a" stroke="#1a1a1a" stroke-width="0.25" >0.8</text>
<text x="623.4" y="1130.5" font-size="20.5" text-anchor="middle" font-family="'Liberation Sans', Arial, sans-serif" fill="#1a1a1a" stroke="#1a1a1a" stroke-width="0.25" textLength="140" lengthAdjust="spacingAndGlyphs">Lipofectamine</text>
<text x="751.4" y="1130.5" font-size="20.5" text-anchor="middle" font-family="'Liberation Sans', Arial, sans-serif" fill="#1a1a1a" stroke="#1a1a1a" stroke-width="0.25" textLength="73" lengthAdjust="spacingAndGlyphs">Control</text>
<text x="690.8" y="549" font-size="22.4" text-anchor="end" font-family="'Liberation Sans', Arial, sans-serif" fill="#1a1a1a" stroke="#1a1a1a" stroke-width="0.25" >Diffusion</text>
<text x="690.8" y="572" font-size="22.4" text-anchor="end" font-family="'Liberation Sans', Arial, sans-serif" fill="#1a1a1a" stroke="#1a1a1a" stroke-width="0.25" >Flow Motion</text>
<rect x="705.5" y="535.6" width="60.4" height="10.8" fill="#ff0000"/>
<rect x="705.5" y="558.2" width="60.4" height="10.8" fill="#0000ff"/>
<text x="469.8" y="554.8" font-size="39.5" text-anchor="start" font-family="'DejaVu Sans', 'Liberation Sans', sans-serif" fill="#111" stroke="#111" stroke-width="0.25" >G</text>
<text x="0" y="0" font-size="20.5" text-anchor="middle" font-family="'Liberation Sans', Arial, sans-serif" fill="#1a1a1a" stroke="#1a1a1a" stroke-width="0.25" transform="translate(30.5,802.5) rotate(-90)" textLength="254" lengthAdjust="spacingAndGlyphs">Relative population (a.u.)</text>
<rect x="972.9" y="662.7" width="572.6" height="327.1" fill="none" stroke="#6a6a6a" stroke-width="2.2"/>
<line x1="1087.42" y1="662.7" x2="1087.42" y2="667.7" stroke="#6a6a6a" stroke-width="2" />
<line x1="1087.42" y1="989.8" x2="1087.42" y2="984.8" stroke="#6a6a6a" stroke-width="2" />
<line x1="1201.94" y1="662.7" x2="1201.94" y2="667.7" stroke="#6a6a6a" stroke-width="2" />
<line x1="1201.94" y1="989.8" x2="1201.94" y2="984.8" stroke="#6a6a6a" stroke-width="2" />
<line x1="1316.46" y1="662.7" x2="1316.46" y2="667.7" stroke="#6a6a6a" stroke-width="2" />
<line x1="1316.46" y1="989.8" x2="1316.46" y2="984.8" stroke="#6a6a6a" stroke-width="2" />
<line x1="1430.98" y1="662.7" x2="1430.98" y2="667.7" stroke="#6a6a6a" stroke-width="2" />
<line x1="1430.98" y1="989.8" x2="1430.98" y2="984.8" stroke="#6a6a6a" stroke-width="2" />
<line x1="972.9" y1="969.2" x2="977.9" y2="969.2" stroke="#6a6a6a" stroke-width="2" />
<line x1="1545.5" y1="969.2" x2="1540.5" y2="969.2" stroke="#6a6a6a" stroke-width="2" />
<text x="957.5" y="978.5" font-size="26" text-anchor="end" font-family="'Liberation Sans', Arial, sans-serif" fill="#1a1a1a" stroke="#1a1a1a" stroke-width="0.25" >0</text>
<line x1="972.9" y1="873.4" x2="977.9" y2="873.4" stroke="#6a6a6a" stroke-width="2" />
<line x1="1545.5" y1="873.4" x2="1540.5" y2="873.4" stroke="#6a6a6a" stroke-width="2" />
<text x="957.5" y="882.7" font-size="26" text-anchor="end" font-family="'Liberation Sans', Arial, sans-serif" fill="#1a1a1a" stroke="#1a1a1a" stroke-width="0.25" >0.1</text>
<line x1="972.9" y1="777.6" x2="977.9" y2="777.6" stroke="#6a6a6a" stroke-width="2" />
<line x1="1545.5" y1="777.6" x2="1540.5" y2="777.6" stroke="#6a6a6a" stroke-width="2" />
<text x="957.5" y="786.9" font-size="26" text-anchor="end" font-family="'Liberation Sans', Arial, sans-serif" fill="#1a1a1a" stroke="#1a1a1a" stroke-width="0.25" >0.2</text>
<line x1="972.9" y1="681.8" x2="977.9" y2="681.8" stroke="#6a6a6a" stroke-width="2" />
<line x1="1545.5" y1="681.8" x2="1540.5" y2="681.8" stroke="#6a6a6a" stroke-width="2" />
<text x="957.5" y="691.1" font-size="26" text-anchor="end" font-family="'Liberation Sans', Arial, sans-serif" fill="#1a1a1a" stroke="#1a1a1a" stroke-width="0.25" >0.3</text>
<polyline points="972.9,973.08 978.63,970.44 984.35,967.81 990.08,965.18 995.8,962.56 1001.53,959.94 1007.26,957.33 1012.98,954.71 1018.71,952.11 1024.43,949.5 1030.16,946.9 1035.89,944.3 1041.61,941.71 1047.34,939.12 1053.06,936.54 1058.79,933.96 1064.52,931.38 1070.24,928.8 1075.97,926.23 1081.69,923.67 1087.42,921.1 1093.15,918.54 1098.87,915.99 1104.6,913.44 1110.32,910.89 1116.05,908.34 1121.78,905.8 1127.5,903.26 1133.23,900.73 1138.95,898.2 1144.68,895.67 1150.41,893.15 1156.13,890.63 1161.86,888.11 1167.58,885.6 1173.31,883.09 1179.04,880.58 1184.76,878.08 1190.49,875.58 1196.21,873.08 1201.94,870.59 1207.67,868.1 1213.39,865.62 1219.12,863.13 1224.84,860.66 1230.57,858.18 1236.3,855.71 1242.02,853.24 1247.75,850.77 1253.47,848.31 1259.2,845.85 1264.93,843.4 1270.65,840.95 1276.38,838.5 1282.1,836.05 1287.83,833.61 1293.56,831.17 1299.28,828.73 1305.01,826.3 1310.73,823.87 1316.46,821.45 1322.19,819.02 1327.91,816.6 1333.64,814.19 1339.36,811.77 1345.09,809.36 1350.82,806.96 1356.54,804.55 1362.27,802.15 1367.99,799.75 1373.72,797.36 1379.45,794.97 1385.17,792.58 1390.9,790.19 1396.62,787.81 1402.35,785.43 1408.08,783.05 1413.8,780.68 1419.53,778.31 1425.25,775.94 1430.98,773.57 1436.71,771.21 1442.43,768.85 1448.16,766.5 1453.88,764.14 1459.61,761.79 1465.34,759.45 1471.06,757.1 1476.79,754.76 1482.51,752.42 1488.24,750.09 1493.97,747.75 1499.69,745.42 1505.42,743.09 1511.14,740.77 1516.87,738.45 1522.6,736.13 1528.32,733.81 1534.05,731.5 1539.77,729.19 1545.5,726.88" fill="none" stroke="#f03c3c" stroke-width="1.6" stroke-linejoin="round" stroke-linecap="round" />
<polyline points="972.9,976.14 978.63,974.49 984.35,972.81 990.08,971.11 995.8,969.38 1001.53,967.62 1007.26,965.84 1012.98,964.02 1018.71,962.18 1024.43,960.31 1030.16,958.41 1035.89,956.49 1041.61,954.54 1047.34,952.56 1053.06,950.56 1058.79,948.52 1064.52,946.47 1070.24,944.38 1075.97,942.27 1081.69,940.13 1087.42,937.96 1093.15,935.77 1098.87,933.55 1104.6,931.31 1110.32,929.04 1116.05,926.74 1121.78,924.42 1127.5,922.07 1133.23,919.69 1138.95,917.29 1144.68,914.87 1150.41,912.42 1156.13,909.94 1161.86,907.44 1167.58,904.91 1173.31,902.36 1179.04,899.78 1184.76,897.18 1190.49,894.55 1196.21,891.9 1201.94,889.22 1207.67,886.52 1213.39,883.79 1219.12,881.04 1224.84,878.27 1230.57,875.47 1236.3,872.64 1242.02,869.79 1247.75,866.92 1253.47,864.03 1259.2,861.11 1264.93,858.16 1270.65,855.19 1276.38,852.2 1282.1,849.19 1287.83,846.15 1293.56,843.09 1299.28,840 1305.01,836.9 1310.73,833.76 1316.46,830.61 1322.19,827.43 1327.91,824.23 1333.64,821.01 1339.36,817.77 1345.09,814.5 1350.82,811.21 1356.54,807.89 1362.27,804.56 1367.99,801.2 1373.72,797.82 1379.45,794.42 1385.17,791 1390.9,787.55 1396.62,784.09 1402.35,780.6 1408.08,777.09 1413.8,773.56 1419.53,770 1425.25,766.43 1430.98,762.83 1436.71,759.21 1442.43,755.58 1448.16,751.92 1453.88,748.24 1459.61,744.54 1465.34,740.81 1471.06,737.07 1476.79,733.31 1482.51,729.53 1488.24,725.72 1493.97,721.9 1499.69,718.05 1505.42,714.19 1511.14,710.31 1516.87,706.4 1522.6,702.48 1528.32,698.53 1534.05,694.57 1539.77,690.59 1545.5,686.58" fill="none" stroke="#3c3cf0" stroke-width="1.6" stroke-linejoin="round" stroke-linecap="round" />
<rect x="969.4" y="965.7" width="7" height="7" rx="1" fill="none" stroke="#f03c3c" stroke-width="1.6"/>
<circle cx="972.9" cy="969.2" r="4.0" fill="none" stroke="#3c3cf0" stroke-width="1.6"/>
<rect x="992.3" y="960.62" width="7" height="7" rx="1" fill="none" stroke="#f03c3c" stroke-width="1.6"/>
<circle cx="995.8" cy="966.33" r="4.0" fill="none" stroke="#3c3cf0" stroke-width="1.6"/>
<rect x="1015.21" y="951.52" width="7" height="7" rx="1" fill="none" stroke="#f03c3c" stroke-width="1.6"/>
<circle cx="1018.71" cy="962.02" r="4.0" fill="none" stroke="#3c3cf0" stroke-width="1.6"/>
<rect x="1038.11" y="941.75" width="7" height="7" rx="1" fill="none" stroke="#f03c3c" stroke-width="1.6"/>
<circle cx="1041.61" cy="956.75" r="4.0" fill="none" stroke="#3c3cf0" stroke-width="1.6"/>
<rect x="1061.02" y="930.45" width="7" height="7" rx="1" fill="none" stroke="#f03c3c" stroke-width="1.6"/>
<circle cx="1064.52" cy="949.18" r="4.0" fill="none" stroke="#3c3cf0" stroke-width="1.6"/>
<rect x="1083.92" y="918.28" width="7" height="7" rx="1" fill="none" stroke="#f03c3c" stroke-width="1.6"/>
<circle cx="1087.42" cy="941.61" r="4.0" fill="none" stroke="#3c3cf0" stroke-width="1.6"/>
<rect x="1106.82" y="906.3" width="7" height="7" rx="1" fill="none" stroke="#f03c3c" stroke-width="1.6"/>
<circle cx="1110.32" cy="932.8" r="4.0" fill="none" stroke="#3c3cf0" stroke-width="1.6"/>
<rect x="1129.73" y="895.1" width="7" height="7" rx="1" fill="none" stroke="#f03c3c" stroke-width="1.6"/>
<circle cx="1133.23" cy="923.22" r="4.0" fill="none" stroke="#3c3cf0" stroke-width="1.6"/>
<rect x="1152.63" y="884.46" width="7" height="7" rx="1" fill="none" stroke="#f03c3c" stroke-width="1.6"/>
<circle cx="1156.13" cy="912.68" r="4.0" fill="none" stroke="#3c3cf0" stroke-width="1.6"/>
<rect x="1175.54" y="873.73" width="7" height="7" rx="1" fill="none" stroke="#f03c3c" stroke-width="1.6"/>
<circle cx="1179.04" cy="901.18" r="4.0" fill="none" stroke="#3c3cf0" stroke-width="1.6"/>
<rect x="1198.44" y="864.54" width="7" height="7" rx="1" fill="none" stroke="#f03c3c" stroke-width="1.6"/>
<circle cx="1201.94" cy="890.64" r="4.0" fill="none" stroke="#3c3cf0" stroke-width="1.6"/>
<rect x="1221.34" y="854.57" width="7" height="7" rx="1" fill="none" stroke="#f03c3c" stroke-width="1.6"/>
<circle cx="1224.84" cy="878.19" r="4.0" fill="none" stroke="#3c3cf0" stroke-width="1.6"/>
<rect x="1244.25" y="846.05" width="7" height="7" rx="1" fill="none" stroke="#f03c3c" stroke-width="1.6"/>
<circle cx="1247.75" cy="865.74" r="4.0" fill="none" stroke="#3c3cf0" stroke-width="1.6"/>
<rect x="1267.15" y="837.81" width="7" height="7" rx="1" fill="none" stroke="#f03c3c" stroke-width="1.6"/>
<circle cx="1270.65" cy="852.71" r="4.0" fill="none" stroke="#3c3cf0" stroke-width="1.6"/>
<rect x="1290.06" y="828.04" width="7" height="7" rx="1" fill="none" stroke="#f03c3c" stroke-width="1.6"/>
<circle cx="1293.56" cy="841.31" r="4.0" fill="none" stroke="#3c3cf0" stroke-width="1.6"/>
<rect x="1312.96" y="821.14" width="7" height="7" rx="1" fill="none" stroke="#f03c3c" stroke-width="1.6"/>
<circle cx="1316.46" cy="829.81" r="4.0" fill="none" stroke="#3c3cf0" stroke-width="1.6"/>
<rect x="1335.86" y="810.79" width="7" height="7" rx="1" fill="none" stroke="#f03c3c" stroke-width="1.6"/>
<circle cx="1339.36" cy="814.96" r="4.0" fill="none" stroke="#3c3cf0" stroke-width="1.6"/>
<rect x="1358.77" y="799.39" width="7" height="7" rx="1" fill="none" stroke="#f03c3c" stroke-width="1.6"/>
<circle cx="1362.27" cy="801.93" r="4.0" fill="none" stroke="#3c3cf0" stroke-width="1.6"/>
<rect x="1381.67" y="790.1" width="7" height="7" rx="1" fill="none" stroke="#f03c3c" stroke-width="1.6"/>
<circle cx="1385.17" cy="788.43" r="4.0" fill="none" stroke="#3c3cf0" stroke-width="1.6"/>
<rect x="1404.58" y="780.71" width="7" height="7" rx="1" fill="none" stroke="#f03c3c" stroke-width="1.6"/>
<circle cx="1408.08" cy="774.92" r="4.0" fill="none" stroke="#3c3cf0" stroke-width="1.6"/>
<rect x="1427.48" y="770.36" width="7" height="7" rx="1" fill="none" stroke="#f03c3c" stroke-width="1.6"/>
<circle cx="1430.98" cy="761.51" r="4.0" fill="none" stroke="#3c3cf0" stroke-width="1.6"/>
<rect x="1450.38" y="762.12" width="7" height="7" rx="1" fill="none" stroke="#f03c3c" stroke-width="1.6"/>
<circle cx="1453.88" cy="748" r="4.0" fill="none" stroke="#3c3cf0" stroke-width="1.6"/>
<rect x="1473.29" y="752.83" width="7" height="7" rx="1" fill="none" stroke="#f03c3c" stroke-width="1.6"/>
<circle cx="1476.79" cy="734.49" r="4.0" fill="none" stroke="#3c3cf0" stroke-width="1.6"/>
<rect x="1496.19" y="742.39" width="7" height="7" rx="1" fill="none" stroke="#f03c3c" stroke-width="1.6"/>
<circle cx="1499.69" cy="719.93" r="4.0" fill="none" stroke="#3c3cf0" stroke-width="1.6"/>
<rect x="1519.1" y="732.04" width="7" height="7" rx="1" fill="none" stroke="#f03c3c" stroke-width="1.6"/>
<circle cx="1522.6" cy="705.08" r="4.0" fill="none" stroke="#3c3cf0" stroke-width="1.6"/>
<rect x="1542" y="719.69" width="7" height="7" rx="1" fill="none" stroke="#f03c3c" stroke-width="1.6"/>
<circle cx="1545.5" cy="688.51" r="4.0" fill="none" stroke="#3c3cf0" stroke-width="1.6"/>
<text x="1435.5" y="939.3" font-size="26.8" text-anchor="end" font-family="'Liberation Sans', Arial, sans-serif" fill="#1a1a1a" stroke="#1a1a1a" stroke-width="0.25" >Diffusion</text>
<text x="1435.5" y="966.8" font-size="26.8" text-anchor="end" font-family="'Liberation Sans', Arial, sans-serif" fill="#1a1a1a" stroke="#1a1a1a" stroke-width="0.25" >Flow Motion</text>
<line x1="1453.3" y1="930.3" x2="1523.5" y2="930.3" stroke="#f56e6e" stroke-width="2.4" />
<line x1="1453.3" y1="957.5" x2="1523.5" y2="957.5" stroke="#6e6ef5" stroke-width="2.4" />
<text x="889" y="637.6" font-size="38.5" text-anchor="start" font-family="'DejaVu Sans', 'Liberation Sans', sans-serif" fill="#111" stroke="#111" stroke-width="0.25" >H</text>
<text transform="translate(903.5,824.6) rotate(-90)" font-size="26" text-anchor="middle" font-family="'Liberation Sans', Arial, sans-serif" fill="#1a1a1a" stroke="#1a1a1a" stroke-width="0.25">MSD (µm<tspan font-size="19" dy="-12.5">2</tspan><tspan dy="12.5">)</tspan></text>
<rect x="972.9" y="1018" width="572.6" height="66.4" fill="none" stroke="#6a6a6a" stroke-width="2.2"/>
<line x1="972.9" y1="1051" x2="1545.5" y2="1051" stroke="#505050" stroke-width="1.4" stroke-dasharray="3.5,1.8,1.2,1.8"/>
<line x1="1087.42" y1="1018" x2="1087.42" y2="1023" stroke="#6a6a6a" stroke-width="2" />
<line x1="1087.42" y1="1084.4" x2="1087.42" y2="1079.4" stroke="#6a6a6a" stroke-width="2" />
<line x1="1201.94" y1="1018" x2="1201.94" y2="1023" stroke="#6a6a6a" stroke-width="2" />
<line x1="1201.94" y1="1084.4" x2="1201.94" y2="1079.4" stroke="#6a6a6a" stroke-width="2" />
<line x1="1316.46" y1="1018" x2="1316.46" y2="1023" stroke="#6a6a6a" stroke-width="2" />
<line x1="1316.46" y1="1084.4" x2="1316.46" y2="1079.4" stroke="#6a6a6a" stroke-width="2" />
<line x1="1430.98" y1="1018" x2="1430.98" y2="1023" stroke="#6a6a6a" stroke-width="2" />
<line x1="1430.98" y1="1084.4" x2="1430.98" y2="1079.4" stroke="#6a6a6a" stroke-width="2" />
<text x="954.8" y="1027.1" font-size="26" text-anchor="end" font-family="'Liberation Sans', Arial, sans-serif" fill="#1a1a1a" stroke="#1a1a1a" stroke-width="0.25" >0.01</text>
<text x="954.8" y="1060.3" font-size="26" text-anchor="end" font-family="'Liberation Sans', Arial, sans-serif" fill="#1a1a1a" stroke="#1a1a1a" stroke-width="0.25" >0</text>
<text x="954.8" y="1093.5" font-size="26" text-anchor="end" font-family="'Liberation Sans', Arial, sans-serif" fill="#1a1a1a" stroke="#1a1a1a" stroke-width="0.25" >-0.01</text>
<text x="976.4" y="1119.5" font-size="26" text-anchor="middle" font-family="'Liberation Sans', Arial, sans-serif" fill="#1a1a1a" stroke="#1a1a1a" stroke-width="0.25" >0</text>
<text x="1090.92" y="1119.5" font-size="26" text-anchor="middle" font-family="'Liberation Sans', Arial, sans-serif" fill="#1a1a1a" stroke="#1a1a1a" stroke-width="0.25" >5</text>
<text x="1205.44" y="1119.5" font-size="26" text-anchor="middle" font-family="'Liberation Sans', Arial, sans-serif" fill="#1a1a1a" stroke="#1a1a1a" stroke-width="0.25" >10</text>
<text x="1319.96" y="1119.5" font-size="26" text-anchor="middle" font-family="'Liberation Sans', Arial, sans-serif" fill="#1a1a1a" stroke="#1a1a1a" stroke-width="0.25" >15</text>
<text x="1434.48" y="1119.5" font-size="26" text-anchor="middle" font-family="'Liberation Sans', Arial, sans-serif" fill="#1a1a1a" stroke="#1a1a1a" stroke-width="0.25" >20</text>
<text x="1549" y="1119.5" font-size="26" text-anchor="middle" font-family="'Liberation Sans', Arial, sans-serif" fill="#1a1a1a" stroke="#1a1a1a" stroke-width="0.25" >25</text>
<text x="1267" y="1146" font-size="26" text-anchor="middle" font-family="'Liberation Sans', Arial, sans-serif" fill="#1a1a1a" stroke="#1a1a1a" stroke-width="0.25" >Time (s)</text>
<rect x="969.5" y="1034.32" width="6.8" height="6.8" rx="1.2" fill="none" stroke="#f25a5a" stroke-width="1.9"/>
<circle cx="972.9" cy="1026.1" r="3.7" fill="none" stroke="#5a5af2" stroke-width="1.9"/>
<rect x="992.4" y="1053.24" width="6.8" height="6.8" rx="1.2" fill="none" stroke="#f25a5a" stroke-width="1.9"/>
<circle cx="995.8" cy="1040.71" r="3.7" fill="none" stroke="#5a5af2" stroke-width="1.9"/>
<rect x="1015.31" y="1059.55" width="6.8" height="6.8" rx="1.2" fill="none" stroke="#f25a5a" stroke-width="1.9"/>
<circle cx="1018.71" cy="1051" r="3.7" fill="none" stroke="#5a5af2" stroke-width="1.9"/>
<rect x="1038.21" y="1060.22" width="6.8" height="6.8" rx="1.2" fill="none" stroke="#f25a5a" stroke-width="1.9"/>
<circle cx="1041.61" cy="1056.64" r="3.7" fill="none" stroke="#5a5af2" stroke-width="1.9"/>
<rect x="1061.12" y="1054.24" width="6.8" height="6.8" rx="1.2" fill="none" stroke="#f25a5a" stroke-width="1.9"/>
<circle cx="1064.52" cy="1062.29" r="3.7" fill="none" stroke="#5a5af2" stroke-width="1.9"/>
<rect x="1084.02" y="1047.6" width="6.8" height="6.8" rx="1.2" fill="none" stroke="#f25a5a" stroke-width="1.9"/>
<circle cx="1087.42" cy="1065.61" r="3.7" fill="none" stroke="#5a5af2" stroke-width="1.9"/>
<rect x="1106.92" y="1043.28" width="6.8" height="6.8" rx="1.2" fill="none" stroke="#f25a5a" stroke-width="1.9"/>
<circle cx="1110.32" cy="1064.28" r="3.7" fill="none" stroke="#5a5af2" stroke-width="1.9"/>
<rect x="1129.83" y="1039.63" width="6.8" height="6.8" rx="1.2" fill="none" stroke="#f25a5a" stroke-width="1.9"/>
<circle cx="1133.23" cy="1062.29" r="3.7" fill="none" stroke="#5a5af2" stroke-width="1.9"/>
<rect x="1152.73" y="1037.97" width="6.8" height="6.8" rx="1.2" fill="none" stroke="#f25a5a" stroke-width="1.9"/>
<circle cx="1156.13" cy="1059.63" r="3.7" fill="none" stroke="#5a5af2" stroke-width="1.9"/>
<rect x="1175.64" y="1037.97" width="6.8" height="6.8" rx="1.2" fill="none" stroke="#f25a5a" stroke-width="1.9"/>
<circle cx="1179.04" cy="1057.31" r="3.7" fill="none" stroke="#5a5af2" stroke-width="1.9"/>
<rect x="1198.54" y="1039.63" width="6.8" height="6.8" rx="1.2" fill="none" stroke="#f25a5a" stroke-width="1.9"/>
<circle cx="1201.94" cy="1053.99" r="3.7" fill="none" stroke="#5a5af2" stroke-width="1.9"/>
<rect x="1221.44" y="1039.63" width="6.8" height="6.8" rx="1.2" fill="none" stroke="#f25a5a" stroke-width="1.9"/>
<circle cx="1224.84" cy="1051" r="3.7" fill="none" stroke="#5a5af2" stroke-width="1.9"/>
<rect x="1244.35" y="1045.94" width="6.8" height="6.8" rx="1.2" fill="none" stroke="#f25a5a" stroke-width="1.9"/>
<circle cx="1247.75" cy="1046.68" r="3.7" fill="none" stroke="#5a5af2" stroke-width="1.9"/>
<rect x="1267.25" y="1048.6" width="6.8" height="6.8" rx="1.2" fill="none" stroke="#f25a5a" stroke-width="1.9"/>
<circle cx="1270.65" cy="1044.36" r="3.7" fill="none" stroke="#5a5af2" stroke-width="1.9"/>
<rect x="1290.16" y="1051.92" width="6.8" height="6.8" rx="1.2" fill="none" stroke="#f25a5a" stroke-width="1.9"/>
<circle cx="1293.56" cy="1043.03" r="3.7" fill="none" stroke="#5a5af2" stroke-width="1.9"/>
<rect x="1313.06" y="1053.24" width="6.8" height="6.8" rx="1.2" fill="none" stroke="#f25a5a" stroke-width="1.9"/>
<circle cx="1316.46" cy="1043.03" r="3.7" fill="none" stroke="#5a5af2" stroke-width="1.9"/>
<rect x="1335.96" y="1053.24" width="6.8" height="6.8" rx="1.2" fill="none" stroke="#f25a5a" stroke-width="1.9"/>
<circle cx="1339.36" cy="1043.03" r="3.7" fill="none" stroke="#5a5af2" stroke-width="1.9"/>
<rect x="1358.87" y="1053.24" width="6.8" height="6.8" rx="1.2" fill="none" stroke="#f25a5a" stroke-width="1.9"/>
<circle cx="1362.27" cy="1043.03" r="3.7" fill="none" stroke="#5a5af2" stroke-width="1.9"/>
<rect x="1381.77" y="1050.59" width="6.8" height="6.8" rx="1.2" fill="none" stroke="#f25a5a" stroke-width="1.9"/>
<circle cx="1385.17" cy="1043.36" r="3.7" fill="none" stroke="#5a5af2" stroke-width="1.9"/>
<rect x="1404.68" y="1050.59" width="6.8" height="6.8" rx="1.2" fill="none" stroke="#f25a5a" stroke-width="1.9"/>
<circle cx="1408.08" cy="1045.69" r="3.7" fill="none" stroke="#5a5af2" stroke-width="1.9"/>
<rect x="1427.58" y="1050.59" width="6.8" height="6.8" rx="1.2" fill="none" stroke="#f25a5a" stroke-width="1.9"/>
<circle cx="1430.98" cy="1048.01" r="3.7" fill="none" stroke="#5a5af2" stroke-width="1.9"/>
<rect x="1450.48" y="1052.91" width="6.8" height="6.8" rx="1.2" fill="none" stroke="#f25a5a" stroke-width="1.9"/>
<circle cx="1453.88" cy="1050" r="3.7" fill="none" stroke="#5a5af2" stroke-width="1.9"/>
<rect x="1473.39" y="1051.92" width="6.8" height="6.8" rx="1.2" fill="none" stroke="#f25a5a" stroke-width="1.9"/>
<circle cx="1476.79" cy="1053.32" r="3.7" fill="none" stroke="#5a5af2" stroke-width="1.9"/>
<rect x="1496.29" y="1048.93" width="6.8" height="6.8" rx="1.2" fill="none" stroke="#f25a5a" stroke-width="1.9"/>
<circle cx="1499.69" cy="1056.31" r="3.7" fill="none" stroke="#5a5af2" stroke-width="1.9"/>
<rect x="1519.2" y="1045.28" width="6.8" height="6.8" rx="1.2" fill="none" stroke="#f25a5a" stroke-width="1.9"/>
<circle cx="1522.6" cy="1058.97" r="3.7" fill="none" stroke="#5a5af2" stroke-width="1.9"/>
<rect x="1542.1" y="1035.65" width="6.8" height="6.8" rx="1.2" fill="none" stroke="#f25a5a" stroke-width="1.9"/>
<circle cx="1545.5" cy="1058.97" r="3.7" fill="none" stroke="#5a5af2" stroke-width="1.9"/>
</g>
</svg>
</body></html>
